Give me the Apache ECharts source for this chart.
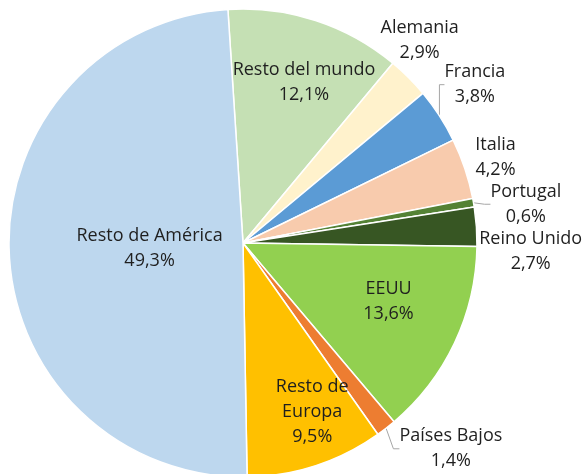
<!DOCTYPE html>
<html lang="es">
<head>
    <meta charset="utf-8">
    <title>Pie</title>
    <script src="https://cdn.jsdelivr.net/npm/echarts@6/dist/echarts.min.js"></script>
    <style>
        html, body { margin: 0; padding: 0; background: #fff; }
        #main { width: 587px; height: 474px; }
    </style>
</head>
<body>
<div id="main"></div>
<script>
    // datos
    var names = ['Resto del mundo', 'Alemania', 'Francia', 'Italia', 'Portugal',
        'Reino Unido', 'EEUU', 'Países Bajos', 'Resto de Europa', 'Resto de América'];
    var values = [12.1, 2.9, 3.8, 4.2, 0.6, 2.7, 13.6, 1.4, 9.5, 49.3];
    var colors = ['#C5E0B4', '#FFF2CC', '#5B9BD5', '#F8CBAD', '#548235',
        '#375623', '#92D050', '#ED7D31', '#FFC000', '#BDD7EE'];

    // geometria del pastel
    var cx = 243, cy = 243, R = 234, start = 93.7;
    // donde va cada etiqueta: fraccion del radio y ajuste de angulo
    var labelPlace = {
        'Resto del mundo': [0.735, -2.7],
        'Alemania': [1.15, 4],
        'Francia': [1.20, 1.4],
        'Italia': [1.14, 0.3],
        'Portugal': [1.22, -2.1],
        'Reino Unido': [1.23, -5.7],
        'EEUU': [0.67, 3.5],
        'Países Bajos': [1.25, 7.6],
        'Resto de Europa': [0.78, 4.2],
        'Resto de América': [0.40, 1]
    };
    var withLine = ['Francia', 'Portugal', 'Países Bajos'];

    var total = values.reduce(function (a, b) { return a + b; }, 0);
    var cum = [];
    var acc = 0;
    values.forEach(function (v) { cum.push(acc + v / 2); acc += v; });

    var data = names.map(function (n, i) {
        return {
            name: n,
            value: values[i],
            itemStyle: { color: colors[i] },
            labelLine: { show: withLine.indexOf(n) >= 0 }
        };
    });

    var chart = echarts.init(document.getElementById('main'));
    var option = {
        animation: false,
        series: [{
            type: 'pie',
            center: [cx, cy],
            radius: [0, R],
            startAngle: start,
            clockwise: true,
            avoidLabelOverlap: false,
            itemStyle: { borderColor: '#fff', borderWidth: 1.5 },
            label: {
                show: true,
                position: 'outside',
                fontFamily: 'Open Sans',
                fontSize: 18,
                lineHeight: 25,
                color: '#1f1f1f',
                align: 'center',
                formatter: function (p) {
                    var n = p.name === 'Resto de Europa' ? 'Resto de\nEuropa' : p.name;
                    return n + '\n' + p.value.toFixed(1).replace('.', ',') + '%';
                }
            },
            labelLine: {
                length: 6,
                length2: 6,
                lineStyle: { color: '#A6A6A6', width: 1 }
            },
            labelLayout: function (p) {
                var i = p.dataIndex;
                var pl = labelPlace[names[i]];
                var a = (start - cum[i] / total * 360 + pl[1]) * Math.PI / 180;
                return {
                    x: cx + Math.cos(a) * R * pl[0],
                    y: cy - Math.sin(a) * R * pl[0],
                    align: 'center',
                    verticalAlign: 'middle'
                };
            },
            data: data
        }]
    };
    chart.setOption(option);
</script>
</body>
</html>
